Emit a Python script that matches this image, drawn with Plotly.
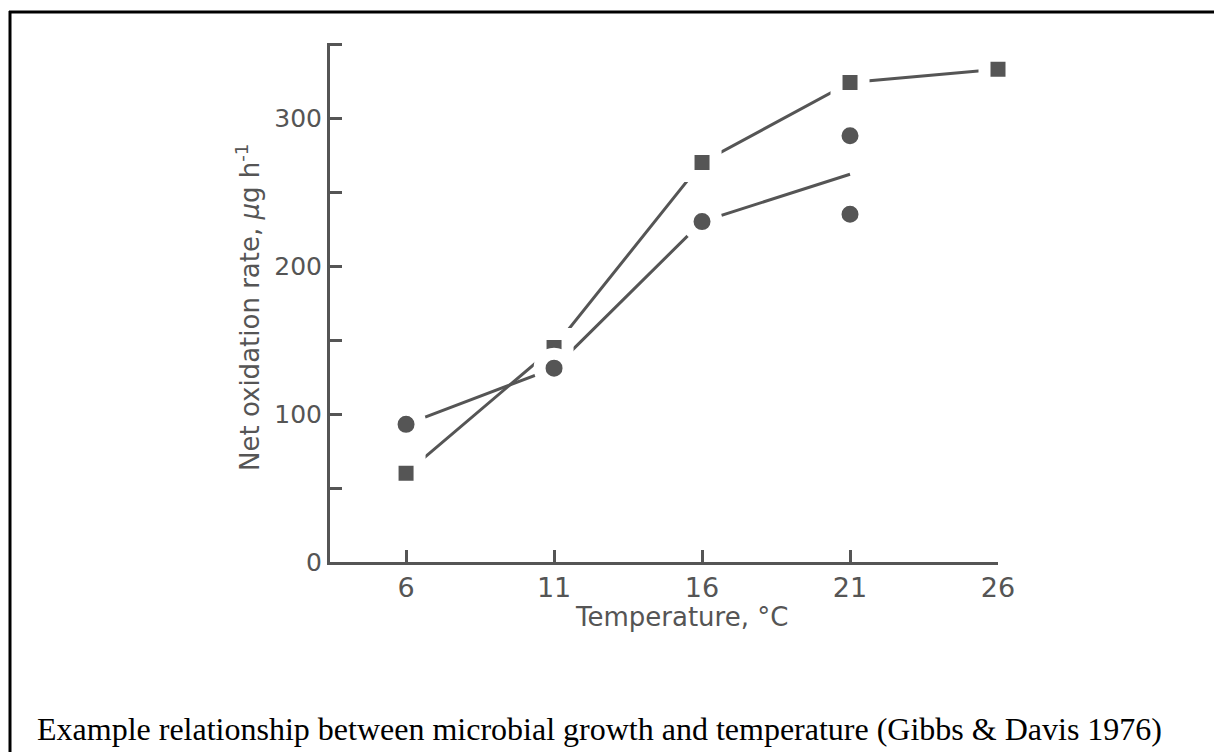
import plotly.graph_objects as go

# ---- data ----
temps = [6, 11, 16, 21, 26]
square_rate = [60, 145, 270, 324, 333]

circle_temps = [6, 11, 16, 21, 21]
circle_rate = [93, 131, 230, 288, 235]

circle_line_temps = [6, 11, 16, 21]
circle_line_rate = [93, 131, 230, 262]

y_tickvals = [0, 100, 200, 300]
y_minor_step = 50
x_tickvals = [6, 11, 16, 21, 26]

y_title = "Net oxidation rate, <i>μ</i>g h<sup>-1</sup>"
x_title = "Temperature, °C"
caption = "Example relationship between microbial growth and temperature (Gibbs & Davis 1976)"

# ---- layout geometry ----
OFF = 8                      # default page body margin
W, H = 1214, 744             # figure size (fits the 1222x752 window with the body margin)
L, R, T, B = 322, 224, 35, 190
PW, PH = W - L - R, H - T - B

def px_x(px):   # screenshot pixel -> paper x
    return (px - OFF - L) / PW

def px_y(py):   # screenshot pixel -> paper y
    return (H - B - (py - OFF)) / PH

INK = "#555555"
sans = "DejaVu Sans, Verdana, sans-serif"
serif = "Liberation Serif, Times New Roman, serif"

fig = go.Figure()

# lines first
fig.add_trace(go.Scatter(x=temps, y=square_rate, mode="lines", cliponaxis=False,
                         line=dict(color=INK, width=3), hoverinfo="skip"))
fig.add_trace(go.Scatter(x=circle_line_temps, y=circle_line_rate, mode="lines", cliponaxis=False,
                         line=dict(color=INK, width=3), hoverinfo="skip"))
# markers with a white halo to leave the small gaps seen in the original
fig.add_trace(go.Scatter(x=temps, y=square_rate, mode="markers", cliponaxis=False,
                         marker=dict(symbol="square", size=27, color=INK,
                                     line=dict(color="white", width=12))))
fig.add_trace(go.Scatter(x=circle_temps, y=circle_rate, mode="markers", cliponaxis=False,
                         marker=dict(symbol="circle", size=29, color=INK,
                                     line=dict(color="white", width=12))))

fig.update_layout(
    width=W, height=H,
    margin=dict(l=L, r=R, t=T, b=B, autoexpand=False),
    paper_bgcolor="white", plot_bgcolor="white",
    showlegend=False,
    font=dict(family=sans, color=INK, size=24),
)
fig.update_xaxes(range=[3.43, 26], tickvals=x_tickvals, ticks="inside", ticklen=12,
                 tickwidth=3, tickcolor=INK, showline=True, linecolor=INK, linewidth=3,
                 showgrid=False, zeroline=False, ticklabelstandoff=0,
                 tickfont=dict(size=27, color=INK, family=sans))
fig.update_yaxes(range=[0, 350.7], tickvals=y_tickvals, ticks="inside",
                 ticklen=12, tickwidth=3, tickcolor=INK, showline=True, linecolor=INK,
                 linewidth=3, showgrid=False, zeroline=False, ticklabelstandoff=0,
                 tickfont=dict(size=25, color=INK, family=sans),
                 minor=dict(ticks="inside", tick0=0, dtick=y_minor_step, ticklen=12,
                            tickwidth=3, tickcolor=INK, showgrid=False))

annotations = [
    dict(text=y_title, x=px_x(248), y=px_y(308), xref="paper", yref="paper",
         textangle=-90, showarrow=False, xanchor="center", yanchor="middle",
         font=dict(size=26, color=INK, family=sans)),
    dict(text=x_title, x=px_x(681), y=px_y(617), xref="paper", yref="paper",
         showarrow=False, xanchor="center", yanchor="middle",
         font=dict(size=26, color=INK, family=sans)),
    dict(text=caption, x=px_x(35), y=px_y(729), xref="paper", yref="paper",
         showarrow=False, xanchor="left", yanchor="middle",
         font=dict(size=32, color="black", family=serif)),
]
fig.update_layout(annotations=annotations)

shapes = [
    dict(type="line", xref="paper", yref="paper", x0=px_x(10), x1=px_x(10),
         y0=px_y(11), y1=px_y(760), line=dict(color="black", width=3)),
    dict(type="line", xref="paper", yref="paper", x0=px_x(9), x1=px_x(1240),
         y0=px_y(12), y1=px_y(12), line=dict(color="black", width=3)),
]
fig.update_layout(shapes=shapes)

fig.write_html("out.html")
